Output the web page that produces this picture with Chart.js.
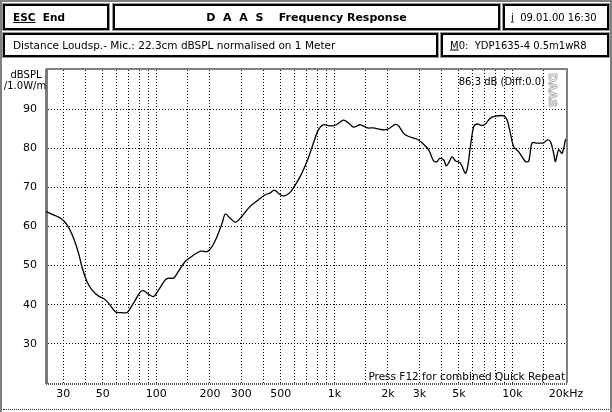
<!DOCTYPE html>
<html>
<head>
<meta charset="utf-8">
<script src="https://cdn.jsdelivr.net/npm/chart.js@4.4.0/dist/chart.umd.min.js"></script>
<style>
  html, body { margin: 0; padding: 0; background: #fff; }
  body { width: 612px; height: 412px; position: relative; overflow: hidden; font-family: "DejaVu Sans", sans-serif; color: #000; }
  #chart { position: absolute; left: 0; top: 0; }
  .frame { position: absolute; background: #808080; }
  .box { position: absolute; box-sizing: border-box; border: 2px solid #000; box-shadow: 0 0 0 1px #9a9a9a; background: #fff; font-size: 10px; white-space: nowrap; }
  .box span { position: absolute; top: 50%; transform: translateY(-50%); }
  .bold { font-weight: bold; font-size: 10.5px; }
  u { text-decoration: underline; }
  #bottomline { position: absolute; left: 3px; right: 3px; top: 409px; border-top: 1px dotted #333; }
</style>
</head>
<body>
<canvas id="chart" width="612" height="412"></canvas>
<div class="frame" style="left:0;top:0;width:2px;height:412px"></div>
<div class="frame" style="left:0;top:0;width:612px;height:2px"></div>
<div class="frame" style="right:0;top:0;width:2px;height:412px"></div>
<div id="bottomline"></div>

<div class="box" style="left:3px;top:4px;width:106px;height:26px"><span class="bold" style="left:8px"><u>ESC</u>&nbsp; End</span></div>
<div class="box" style="left:113px;top:4px;width:387px;height:26px"><span class="bold" style="left:0;right:0;text-align:center;font-size:11px">D&nbsp; A&nbsp; A&nbsp; S&nbsp;&nbsp;&nbsp; Frequency Response</span></div>
<div class="box" style="left:503px;top:4px;width:106px;height:26px"><span style="left:6px"><u>i</u>&nbsp; 09.01.00 16:30</span></div>
<div class="box" style="left:3px;top:33px;width:435px;height:24px"><span style="left:8px;font-size:10.5px">Distance Loudsp.- Mic.: 22.3cm dBSPL normalised on 1 Meter</span></div>
<div class="box" style="left:441px;top:33px;width:168px;height:24px"><span style="left:7px"><u>M</u>0: &nbsp;YDP1635-4 0.5m1wR8</span></div>

<script>
// measured response (Hz, dB SPL)
const freqs = [24, 29, 31.5, 34.3, 36.6, 38.2, 40.8, 43.5, 47.4, 50.6, 53.9, 58.8, 62.8, 68.4, 71.4, 76.2, 81.3, 84.8, 90.5, 96.6,
  103, 112, 117, 125, 133, 145, 162, 177, 193, 205, 219, 234, 244, 260, 278, 296, 316, 337, 374, 409,
  437, 460, 497, 524, 566, 612, 661, 714, 762, 813, 867, 949, 1026, 1123, 1198, 1278, 1399, 1533, 1656, 1813,
  1977, 2201, 2297, 2450, 2614, 2914, 3108, 3387, 3612, 3775, 3903, 4112, 4257, 4425, 4581, 4783, 5102, 5443, 5607, 5806,
  6060, 6332, 6755, 7051, 7522, 8025, 8935, 9334, 9744, 10166, 10846, 11827, 12343, 12898, 13759, 14990, 15662, 16344, 17059, 17436,
  18199, 19017, 19846, 20000];
const spl = [63.8, 62.1, 60.4, 57.0, 53.1, 49.7, 45.9, 43.8, 42.2, 41.6, 40.4, 38.2, 38.0, 38.0, 39.1, 41.2, 43.3, 43.6, 42.7, 42.1,
  43.8, 46.3, 46.8, 46.8, 48.5, 51.0, 52.7, 53.7, 53.6, 54.8, 57.4, 60.8, 63.2, 62.1, 61.1, 62.1, 63.7, 65.2, 66.8, 68.1,
  68.6, 69.3, 68.1, 67.8, 68.8, 71.1, 73.9, 77.5, 81.3, 84.7, 86.0, 85.7, 86.0, 87.2, 86.5, 85.4, 86.0, 85.2, 85.2, 84.8,
  84.8, 86.1, 85.7, 83.8, 83.0, 82.3, 81.4, 79.6, 76.7, 76.6, 77.4, 77.0, 75.5, 76.6, 77.8, 76.8, 76.2, 73.6, 75.3, 80.4,
  85.5, 86.2, 85.8, 86.2, 87.7, 88.2, 88.3, 87.2, 83.8, 80.4, 79.1, 76.6, 76.7, 81.4, 81.3, 81.4, 82.1, 81.7, 78.7, 76.6,
  79.6, 78.7, 82.1, 82.4];

// axis ticks
const gridFreqs = [30, 40, 50, 60, 70, 80, 90, 100, 150, 200, 300, 400, 500, 600, 700, 800, 900,
  1000, 1500, 2000, 3000, 4000, 5000, 6000, 7000, 8000, 9000, 10000, 15000, 20000];
const labelFreqs = [30, 50, 100, 200, 300, 500, 1000, 2000, 3000, 5000, 10000, 20000];
const labelTexts = ['30', '50', '100', '200', '300', '500', '1k', '2k', '3k', '5k', '10k', '20kHz'];
const dbTicks = [20, 30, 40, 50, 60, 70, 80, 90, 100];
const dbLabels = [30, 40, 50, 60, 70, 80, 90];

const FONT = 'DejaVu Sans';
const clear = 'rgba(0,0,0,0)';

// frame, axis title and the screen texts inside the plot
const decorations = {
  id: 'decorations',
  beforeDraw(chart) {
    const { ctx, width, height } = chart;
    ctx.save();
    ctx.fillStyle = '#fff';
    ctx.fillRect(0, 0, width, height);
    ctx.restore();
  },
  afterDraw(chart) {
    const { ctx, chartArea: a } = chart;
    ctx.save();
    ctx.strokeStyle = '#808080';
    ctx.lineWidth = 2;
    ctx.beginPath();
    ctx.moveTo(a.left, a.top - 1);
    ctx.lineTo(a.right + 2, a.top - 1);
    ctx.moveTo(a.right + 1, a.top - 1);
    ctx.lineTo(a.right + 1, a.bottom);
    ctx.stroke();
    // dotted bottom axis
    ctx.strokeStyle = '#555';
    ctx.setLineDash([1, 1]);
    ctx.beginPath();
    ctx.moveTo(a.left, a.bottom + 1);
    ctx.lineTo(a.right + 2, a.bottom + 1);
    ctx.stroke();
    ctx.setLineDash([]);

    ctx.fillStyle = '#000';
    ctx.font = '10px ' + FONT;
    ctx.textAlign = 'center';
    ctx.textBaseline = 'alphabetic';
    ctx.fillText('dBSPL', 26, 78);
    ctx.fillText('/1.0W/m', 25, 89);

    ctx.textAlign = 'right';
    ctx.fillText('86.3 dB (Diff:0.0)', a.right - 21, a.top + 15);
    ctx.font = '10.5px ' + FONT;
    ctx.fillText('Press F12 for combined Quick Repeat', a.right - 1, a.bottom - 3);

    // vertical DAAS watermark
    ctx.translate(a.right - 14, a.top + 3);
    ctx.rotate(Math.PI / 2);
    ctx.textAlign = 'left';
    ctx.textBaseline = 'middle';
    ctx.font = 'bold 11px ' + FONT;
    ctx.strokeStyle = '#b0b0b0';
    ctx.lineWidth = 1;
    ctx.strokeText('DAAS', 0, 0);
    ctx.restore();
  }
};

new Chart(document.getElementById('chart').getContext('2d'), {
  type: 'line',
  data: {
    datasets: [{
      data: freqs.map((f, i) => ({ x: f, y: spl[i] })),
      borderColor: '#000',
      borderWidth: 1.3,
      pointRadius: 0,
      tension: 0.3,
      fill: false
    }]
  },
  options: {
    responsive: false,
    animation: false,
    layout: { padding: { left: 0, top: 70, right: 46, bottom: 0 } },
    plugins: { legend: { display: false }, tooltip: { enabled: false } },
    scales: {
      x: {
        type: 'logarithmic',
        min: 24,
        max: 20000,
        afterBuildTicks: s => { s.ticks = gridFreqs.map(v => ({ value: v })); },
        afterFit: s => { s.height = 29; },
        ticks: {
          autoSkip: false,
          maxRotation: 0,
          padding: 5,
          color: '#000',
          font: { family: FONT, size: 11 },
          callback: v => {
            const i = labelFreqs.indexOf(v);
            return i < 0 ? '' : labelTexts[i];
          }
        },
        grid: {
          color: c => (c.tick && c.tick.value === 20000) ? clear : '#000',
          lineWidth: 1,
          drawTicks: false
        },
        border: { display: false, dash: [1, 2] }
      },
      y: {
        min: 20,
        max: 100,
        afterBuildTicks: s => { s.ticks = dbTicks.map(v => ({ value: v })); },
        afterFit: s => { s.width = 46; },
        ticks: {
          padding: 9,
          color: '#000',
          font: { family: FONT, size: 11 },
          callback: v => dbLabels.includes(v) ? String(v) : ''
        },
        grid: {
          color: c => (c.tick && (c.tick.value === 20 || c.tick.value === 100)) ? clear : '#000',
          lineWidth: 1,
          drawTicks: false
        },
        border: { color: '#7a7a7a', width: 3, dash: [1, 2] }
      }
    }
  },
  plugins: [decorations]
});
</script>
</body>
</html>
